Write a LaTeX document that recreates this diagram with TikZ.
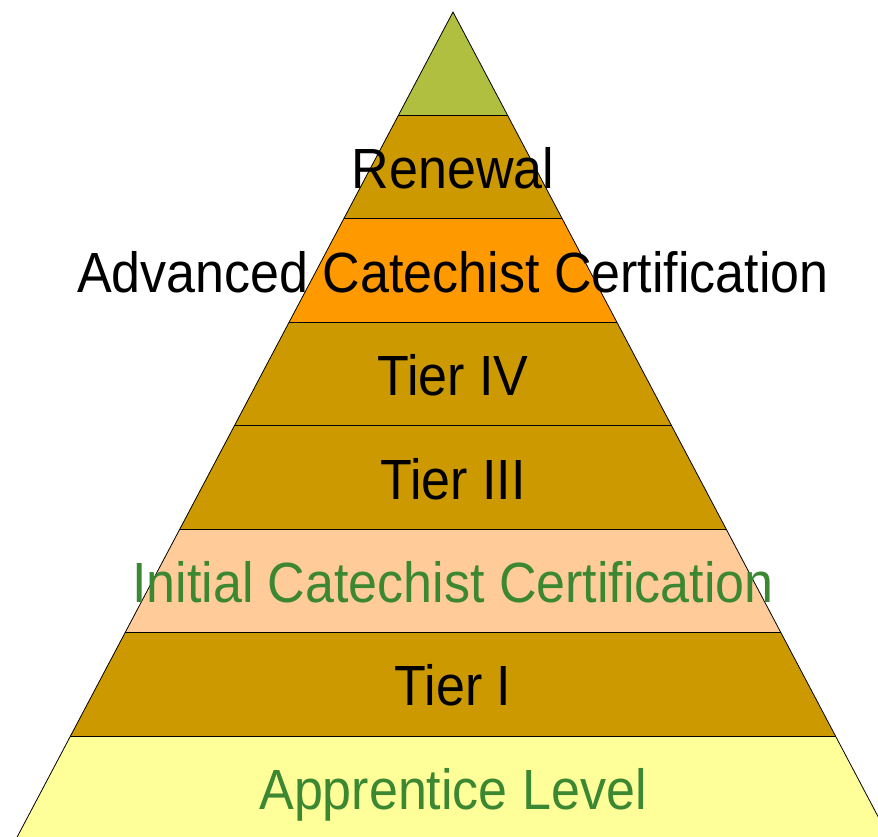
\documentclass[tikz,border=0pt]{standalone}
\usepackage{fontspec}
\setmainfont{Liberation Sans}
\usepackage{graphicx}
\definecolor{topgreen}{HTML}{B0BF3F}
\definecolor{tan}{HTML}{CC9900}
\definecolor{orng}{HTML}{FF9900}
\definecolor{peach}{HTML}{FFCC99}
\definecolor{lyellow}{HTML}{FFFF99}
\definecolor{txtgreen}{HTML}{3C8732}
\tikzset{
  lbl/.style={anchor=base, inner sep=0pt, font=\fontsize{52}{60}\selectfont},
  edge/.style={draw=black, line width=1.1pt},
}
\newcommand{\tall}[1]{\scalebox{1}[1.09]{#1}}
\begin{document}
\begin{tikzpicture}[x=1pt,y=-1pt]
\useasboundingbox (0,0) rectangle (878,837);
\clip (0,0) rectangle (878,837);
\def\ax{453}\def\ay{12}\def\h{103.45}\def\s{0.5283}
% bands
\foreach \k/\col in {0/topgreen,1/tan,2/orng,3/tan,4/tan,5/peach,6/tan,7/lyellow}{
  \pgfmathsetmacro{\yt}{\ay+\h*\k}
  \pgfmathsetmacro{\yb}{\ay+\h*(\k+1)}
  \pgfmathsetmacro{\wt}{\s*\h*\k}
  \pgfmathsetmacro{\wb}{\s*\h*(\k+1)}
  \fill[\col] (\ax-\wt,\yt) -- (\ax+\wt,\yt) -- (\ax+\wb,\yb) -- (\ax-\wb,\yb) -- cycle;
}
% boundaries
\foreach \k in {1,...,7}{
  \pgfmathsetmacro{\yt}{\ay+\h*\k}
  \pgfmathsetmacro{\wt}{\s*\h*\k}
  \draw[edge] (\ax-\wt,\yt) -- (\ax+\wt,\yt);
}
\coordinate (apex) at (\ax,\ay);
\coordinate (bl) at (\ax-\s*\h*8,\ay+\h*8);
\coordinate (br) at (\ax+\s*\h*8,\ay+\h*8);
\draw[draw=black, line width=0.8pt] (bl) -- (apex) -- (br);
% labels
\pgfmathsetmacro{\off}{21.5}
\node[lbl] (renewal) at (\ax,\ay+\h*1.5+\off) {\tall{Renewal}};
\node[lbl] (advanced) at (\ax,\ay+\h*2.5+\off) {\tall{Advanced Catechist Certification}};
\node[lbl] (tier4) at (\ax,\ay+\h*3.5+\off) {\tall{Tier IV}};
\node[lbl] (tier3) at (\ax,\ay+\h*4.5+\off) {\tall{Tier III}};
\node[lbl, text=txtgreen] (initial) at (\ax,\ay+\h*5.5+\off) {\tall{Initial Catechist Certification}};
\node[lbl] (tier1) at (\ax,\ay+\h*6.5+\off) {\tall{Tier I}};
\node[lbl, text=txtgreen] (apprentice) at (\ax,\ay+\h*7.5+\off) {\tall{Apprentice Level}};
\end{tikzpicture}
\end{document}
